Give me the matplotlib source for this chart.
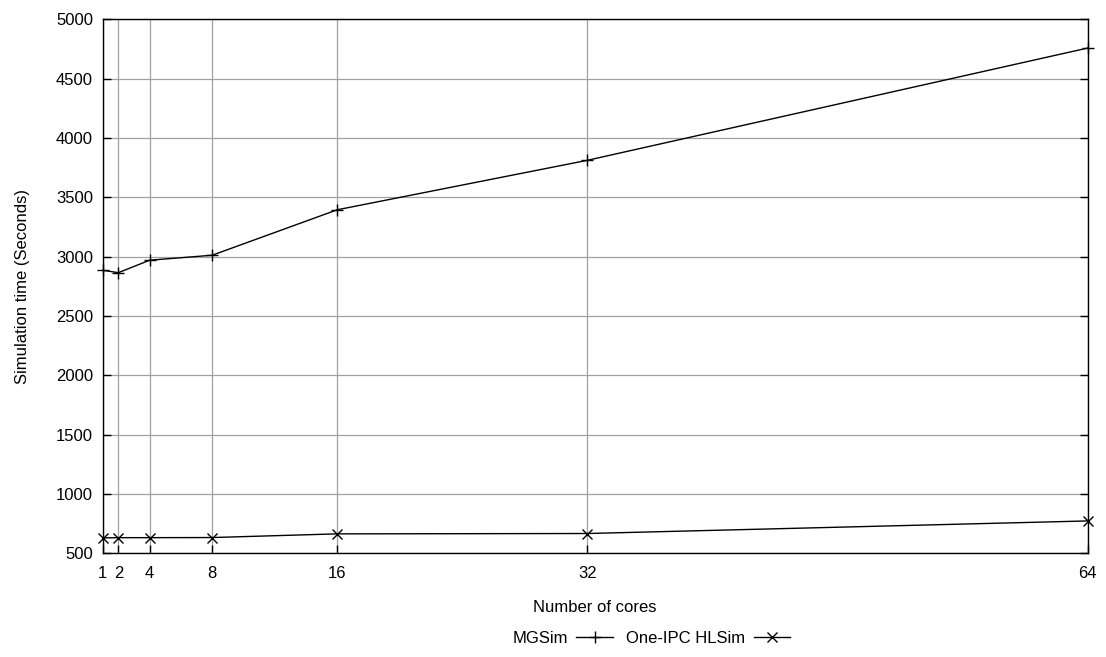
import matplotlib
matplotlib.use("Agg")
import matplotlib.pyplot as plt

plt.rcParams['font.family'] = ['Liberation Sans', 'DejaVu Sans']

# data
cores = [1, 2, 4, 8, 16, 32, 64]
mgsim = [2885, 2865, 2970, 3012, 3395, 3812, 4758]
hlsim = [630, 632, 632, 633, 664, 667, 773]
y_ticks = [500, 1000, 1500, 2000, 2500, 3000, 3500, 4000, 4500, 5000]

fig = plt.figure(figsize=(11.06, 6.57), dpi=100)
ax = fig.add_axes([0.0929, 0.1578, 0.8906, 0.8128])

ax.plot(cores, mgsim, color='black', lw=1.0, marker='+', ms=9, mew=1.0,
        label='MGSim', clip_on=False)
ax.plot(cores, hlsim, color='black', lw=1.0, marker='x', ms=7, mew=1.0,
        label='One-IPC HLSim', clip_on=False)

ax.set_xlim(1, 64)
ax.set_ylim(500, 5000)
ax.set_xticks(cores)
ax.set_yticks(y_ticks)
ax.grid(True, color='#a0a0a0', lw=0.9)
ax.set_axisbelow(True)
ax.tick_params(direction='in', length=6, width=1, top=False, right=True,
               labelsize=12, pad=7)
ax.tick_params(axis='x', pad=9)
for s in ax.spines.values():
    s.set_linewidth(1.0)

ax.set_xlabel('Number of cores', fontsize=12, labelpad=14)
ax.set_ylabel('Simulation time (Seconds)', fontsize=12, labelpad=19)

fig.legend(loc='center', bbox_to_anchor=(0.589, 0.028), ncol=2, frameon=False,
           markerfirst=False, fontsize=12, handlelength=2.2, columnspacing=0.8,
           handletextpad=0.5)

fig.savefig('out.png', dpi=100)
